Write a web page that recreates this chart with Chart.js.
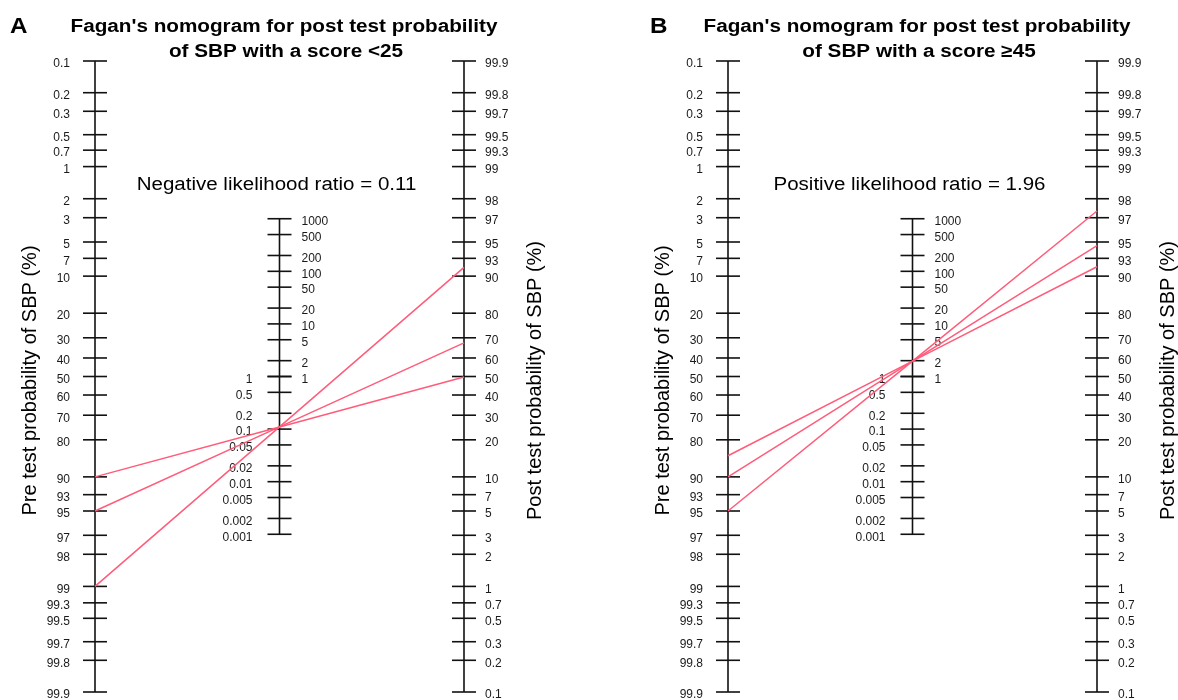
<!DOCTYPE html>
<html><head><meta charset="utf-8">
<script src="https://cdn.jsdelivr.net/npm/chart.js@4.4.1/dist/chart.umd.min.js"></script>
<style>
html,body{margin:0;padding:0;background:#fff;overflow:hidden}
#wrap{position:relative;width:1178px;height:700px;background:#fff}
canvas{position:absolute;top:0}
</style></head><body>
<div id="wrap">
<canvas id="cA" width="633" height="700" style="left:0px"></canvas>
<canvas id="cB" width="545" height="700" style="left:633px"></canvas>
</div>
<script>
// ---- data ----
const probTicks = [0.1,0.2,0.3,0.5,0.7,1,2,3,5,7,10,20,30,40,50,60,70,80,90,93,95,97,98,99,99.3,99.5,99.7,99.8,99.9];
const lrTicksHigh = [1000,500,200,100,50,20,10,5,2,1];
const lrTicksLow = [1,0.5,0.2,0.1,0.05,0.02,0.01,0.005,0.002,0.001];
const titleA = ["Fagan's nomogram for post test probability", "of SBP with a score <25"];
const titleB = ["Fagan's nomogram for post test probability", "of SBP with a score \u226545"];
const lrTextA = "Negative likelihood ratio = 0.11";
const lrTextB = "Positive likelihood ratio = 1.96";
const lrA = 0.11;
const lrB = 1.96;
const preA = [90, 95, 99];
const postA = [49.7, 67.6, 91.6];
const preB = [85, 90, 95];
const postB = [91.7, 94.6, 97.4];
const yTitlePre = "Pre test probability of SBP (%)";
const yTitlePost = "Post test probability of SBP (%)";

// ---- helpers ----
const FONT = '"Liberation Sans", Arial, Helvetica, sans-serif';
const RED = '#ff5c7a';
const logit = p => Math.log((p/100)/(1-p/100));
const LIM = logit(99.9);
const preVal = p => logit(p);       // left axis (reversed scale)
const postVal = p => -logit(p);     // right axis
const lrVal = r => -Math.log(r)/2;  // middle axis

function fmt(v){ return String(v); }

function stretchText(ctx, text, x, y, sx){
  ctx.save(); ctx.translate(x, y); ctx.scale(sx, 1); ctx.fillText(text, 0, 0); ctx.restore();
}

function makeNomo(cfg){
  return {
    id: 'nomo' + cfg.letter,
    beforeDatasetsDraw(chart){
      const ctx = chart.ctx, xs = chart.scales.x, ys = chart.scales.y;
      const xL = xs.getPixelForValue(0), xM = xs.getPixelForValue(1), xR = xs.getPixelForValue(2);
      const TH = 12;
      ctx.save();
      ctx.strokeStyle = '#111'; ctx.lineWidth = 1.6; ctx.fillStyle = '#1a1a1a';
      const vline = (x, y1, y2) => { ctx.beginPath(); ctx.moveTo(x, y1); ctx.lineTo(x, y2); ctx.stroke(); };
      const tick = (x, y) => { ctx.beginPath(); ctx.moveTo(x-TH, y); ctx.lineTo(x+TH, y); ctx.stroke(); };
      vline(xL, ys.getPixelForValue(preVal(0.1)), ys.getPixelForValue(preVal(99.9)));
      vline(xR, ys.getPixelForValue(postVal(99.9)), ys.getPixelForValue(postVal(0.1)));
      vline(xM, ys.getPixelForValue(lrVal(1000)), ys.getPixelForValue(lrVal(0.001)));
      ctx.font = '12px ' + FONT; ctx.textBaseline = 'middle';
      probTicks.forEach(p => {
        const y1 = ys.getPixelForValue(preVal(p));
        tick(xL, y1);
        ctx.textAlign = 'right'; ctx.fillText(fmt(p), xL - 25, y1 + 3);
        const y2 = ys.getPixelForValue(postVal(p));
        tick(xR, y2);
        ctx.textAlign = 'left'; ctx.fillText(fmt(p), xR + 21, y2 + 3);
      });
      lrTicksHigh.forEach(r => {
        const y = ys.getPixelForValue(lrVal(r));
        tick(xM, y);
        ctx.textAlign = 'left'; ctx.fillText(fmt(r), xM + 22, y + 3);
      });
      lrTicksLow.forEach(r => {
        const y = ys.getPixelForValue(lrVal(r));
        tick(xM, y);
        ctx.textAlign = 'right'; ctx.fillText(fmt(r), xM - 27, y + 3);
      });
      // titles
      ctx.fillStyle = '#000';
      ctx.font = 'bold 22px ' + FONT; ctx.textAlign = 'left';
      stretchText(ctx, cfg.letter, cfg.letterX, 27, 1.1);
      ctx.font = 'bold 18px ' + FONT; ctx.textAlign = 'center';
      stretchText(ctx, cfg.title[0], 284, 27, 1.15);
      stretchText(ctx, cfg.title[1], 286, 52, 1.15);
      ctx.font = '18px ' + FONT;
      stretchText(ctx, cfg.lrText, xM - 3, 185, 1.14);
      // axis titles
      ctx.font = '20px ' + FONT;
      const yc = ys.getPixelForValue(0) + 4;
      ctx.save(); ctx.translate(30, yc); ctx.rotate(-Math.PI/2); ctx.fillText(yTitlePre, 0, 0); ctx.restore();
      ctx.save(); ctx.translate(xR + 71, yc); ctx.rotate(-Math.PI/2); ctx.fillText(yTitlePost, 0, 0); ctx.restore();
      ctx.restore();
    }
  };
}

function build(id, cfg){
  const W = document.getElementById(id).width;
  const datasets = cfg.pre.map((p, i) => ({
    data: [{x:0, y:preVal(p)}, {x:1, y:lrVal(cfg.lr)}, {x:2, y:postVal(cfg.post[i])}],
    borderColor: RED, borderWidth: 1.5, pointRadius: 0, tension: 0, fill: false, clip: false
  }));
  return new Chart(document.getElementById(id), {
    type: 'line',
    data: { datasets },
    options: {
      responsive: false, animation: false, devicePixelRatio: 1,
      layout: { padding: { left: 95, right: W - 464, top: 61, bottom: 8 } },
      plugins: { legend: { display: false }, title: { display: false }, tooltip: { enabled: false } },
      scales: {
        x: { type: 'linear', min: 0, max: 2, display: false },
        y: { type: 'linear', min: -LIM, max: LIM, reverse: true, display: false }
      }
    },
    plugins: [makeNomo(cfg)]
  });
}

build('cA', { letter: 'A', letterX: 10, title: titleA, lrText: lrTextA, lr: lrA, pre: preA, post: postA });
build('cB', { letter: 'B', letterX: 17, title: titleB, lrText: lrTextB, lr: lrB, pre: preB, post: postB });
</script>
</body></html>
